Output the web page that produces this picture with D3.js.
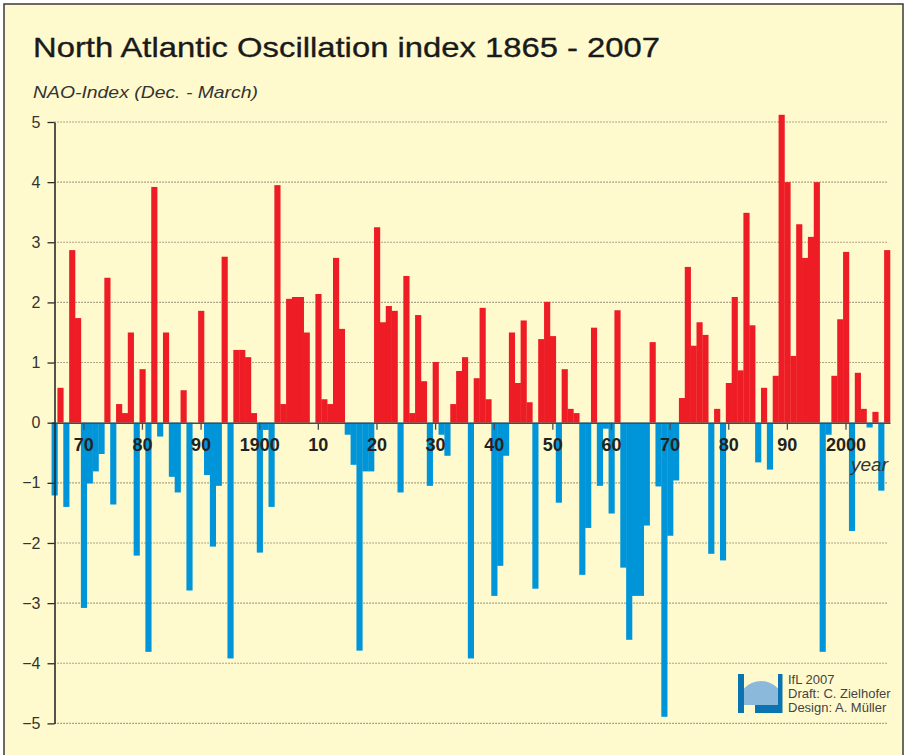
<!DOCTYPE html>
<html>
<head>
<meta charset="utf-8">
<script src="https://cdn.jsdelivr.net/npm/d3@7"></script>
<style>
  html, body { margin: 0; padding: 0; background: #fff; }
  svg { display: block; font-family: "Liberation Sans", Arial, Helvetica, sans-serif; }
</style>
</head>
<body>
<svg id="chart" width="905" height="755"></svg>
<script>
// NAO index, Dec.-March, one value per year 1865..2007
const years = d3.range(1865, 2008);
const naoValues = [
  -1.21, 0.58, -1.40, 2.87, 1.74, -3.08, -1.01, -0.81, -0.52, 2.41,   // 1865-1874
  -1.36, 0.31, 0.16, 1.50, -2.21, 0.89, -3.81, 3.92, -0.23, 1.50,     // 1875-1884
  -0.90, -1.16, 0.54, -2.79, 0.00, 1.86, -0.87, -2.06, -1.05, 2.76,   // 1885-1894
  -3.92, 1.21, 1.21, 1.09, 0.16, -2.16, -0.12, -1.40, 3.95, 0.31,     // 1895-1904
  2.06, 2.09, 2.09, 1.50, 0.00, 2.14, 0.39, 0.31, 2.74, 1.56,         // 1905-1914
  -0.20, -0.70, -3.79, -0.81, -0.81, 3.25, 1.67, 1.94, 1.86, -1.16,   // 1915-1924
  2.44, 0.16, 1.79, 0.69, -1.05, 1.01, -0.20, -0.55, 0.31, 0.86,      // 1925-1934
  1.09, -3.92, 0.74, 1.91, 0.39, -2.88, -2.38, -0.55, 1.50, 0.66,     // 1935-1944
  1.70, 0.34, -2.76, 1.39, 2.01, 1.44, -1.33, 0.89, 0.23, 0.16,       // 1945-1954
  -2.53, -1.75, 1.58, -1.05, -0.10, -1.51, 1.87, -2.41, -3.61, -2.88, // 1955-1964
  -2.88, -1.71, 1.34, -1.06, -4.89, -1.88, -0.96, 0.41, 2.59, 1.28,   // 1965-1974
  1.67, 1.46, -2.18, 0.23, -2.29, 0.66, 2.09, 0.87, 3.49, 1.62,       // 1975-1984
  -0.66, 0.58, -0.78, 0.78, 5.12, 4.00, 1.11, 3.30, 2.74, 3.09,       // 1985-1994
  4.00, -3.81, -0.20, 0.78, 1.72, 2.84, -1.80, 0.83, 0.23, -0.08,     // 1995-2004
  0.18, -1.13, 2.87                                                   // 2005-2007
];
const yTicks = [-5, -4, -3, -2, -1, 0, 1, 2, 3, 4, 5];
const xTicks = [1870, 1880, 1890, 1900, 1910, 1920, 1930, 1940, 1950, 1960, 1970, 1980, 1990, 2000];

const data = years.map((y, i) => ({year: y, value: naoValues[i]}));

const svg = d3.select('#chart');

// frame
svg.append('rect')
    .attr('x', 4).attr('y', 4)
    .attr('width', 899).attr('height', 760)
    .attr('fill', '#fffacd')
    .attr('stroke', '#3a3a3a')
    .attr('stroke-width', 1.5);

svg.append('text')
    .attr('x', 33).attr('y', 57)
    .attr('font-size', 28)
    .attr('fill', '#1a1a1a')
    .attr('stroke', '#1a1a1a')
    .attr('stroke-width', 0.35)
    .attr('textLength', 627)
    .attr('lengthAdjust', 'spacingAndGlyphs')
    .text('North Atlantic Oscillation index 1865 - 2007');

svg.append('text')
    .attr('x', 33).attr('y', 98)
    .attr('font-size', 17)
    .attr('font-style', 'italic')
    .attr('fill', '#333')
    .attr('textLength', 225)
    .attr('lengthAdjust', 'spacingAndGlyphs')
    .text('NAO-Index (Dec. - March)');

const step = 5.863;
const x = d3.scaleBand()
    .domain(years)
    .range([54.5 - step / 2, 54.5 + step * (years.length - 0.5)])
    .padding(0);

const y = d3.scaleLinear().domain([-5, 5]).range([723.4, 122]);

const axisX = 54.5;
const gridRight = 888;

// dotted gridlines
svg.append('g')
    .selectAll('line')
    .data(yTicks.filter(d => d !== 0))
    .enter().append('line')
    .attr('x1', axisX).attr('x2', gridRight)
    .attr('y1', d => y(d)).attr('y2', d => y(d))
    .attr('stroke', '#6a6150')
    .attr('stroke-width', 1.1)
    .attr('stroke-dasharray', '1.1,1.9');

// bars
svg.append('g')
    .selectAll('rect')
    .data(data)
    .enter().append('rect')
    .attr('x', d => x(d.year))
    .attr('width', x.bandwidth() + 0.3)
    .attr('y', d => y(Math.max(0, d.value)))
    .attr('height', d => Math.abs(y(d.value) - y(0)))
    .attr('fill', d => d.value >= 0 ? '#ee1d25' : '#0095d9');

// x axis along zero line
const xAxis = svg.append('g')
    .attr('transform', 'translate(0,' + y(0) + ')')
    .call(d3.axisBottom(x)
        .tickValues(xTicks)
        .tickSize(7)
        .tickSizeOuter(0)
        .tickPadding(9)
        .tickFormat(d => (d % 100 === 0) ? String(d) : String(d).slice(2)));
xAxis.select('.domain').attr('stroke', '#4a4a4a').attr('stroke-width', 1.6);
xAxis.selectAll('.tick line').attr('stroke', '#4a4a4a').attr('stroke-width', 1.3);
xAxis.selectAll('.tick text')
    .attr('font-size', 18)
    .attr('font-weight', 'bold')
    .attr('font-family', '"Liberation Sans", Arial, sans-serif')
    .attr('fill', '#222');

// y axis
const yAxis = svg.append('g')
    .attr('transform', 'translate(' + axisX + ',0)')
    .call(d3.axisLeft(y)
        .tickValues(yTicks)
        .tickSize(7)
        .tickSizeOuter(0)
        .tickPadding(7)
        .tickFormat(d3.format('d')));
yAxis.select('.domain').attr('stroke', '#2a2a2a').attr('stroke-width', 1.6);
yAxis.selectAll('.tick line').attr('stroke', '#2a2a2a').attr('stroke-width', 1.3);
yAxis.selectAll('.tick text')
    .attr('font-size', 16)
    .attr('font-family', '"Liberation Sans", Arial, sans-serif')
    .attr('fill', '#333');

svg.append('text')
    .attr('x', 888).attr('y', 471)
    .attr('text-anchor', 'end')
    .attr('font-size', 19)
    .attr('font-style', 'italic')
    .attr('fill', '#333')
    .text('year');

// credits with a rough IfL logo
const logo = svg.append('g').attr('transform', 'translate(738,674)');
logo.append('clipPath').attr('id', 'globeClip')
    .append('rect').attr('x', 6).attr('y', 0).attr('width', 35).attr('height', 31);
logo.append('circle')
    .attr('cx', 23).attr('cy', 30).attr('r', 23)
    .attr('fill', '#8bb9dc')
    .attr('clip-path', 'url(#globeClip)');
logo.append('rect').attr('x', 0).attr('y', 0).attr('width', 6).attr('height', 39).attr('fill', '#0a74b0');
logo.append('rect').attr('x', 40).attr('y', 0).attr('width', 4.5).attr('height', 39).attr('fill', '#0a74b0');
logo.append('rect').attr('x', 17).attr('y', 31).attr('width', 27).attr('height', 8).attr('fill', '#0a74b0');

const credits = ['IfL 2007', 'Draft: C. Zielhofer', 'Design: A. Müller'];
svg.append('g')
    .selectAll('text')
    .data(credits)
    .enter().append('text')
    .attr('x', 788)
    .attr('y', (d, i) => 684 + i * 14)
    .attr('font-size', 13)
    .attr('fill', '#444')
    .text(d => d);
</script>
</body>
</html>
